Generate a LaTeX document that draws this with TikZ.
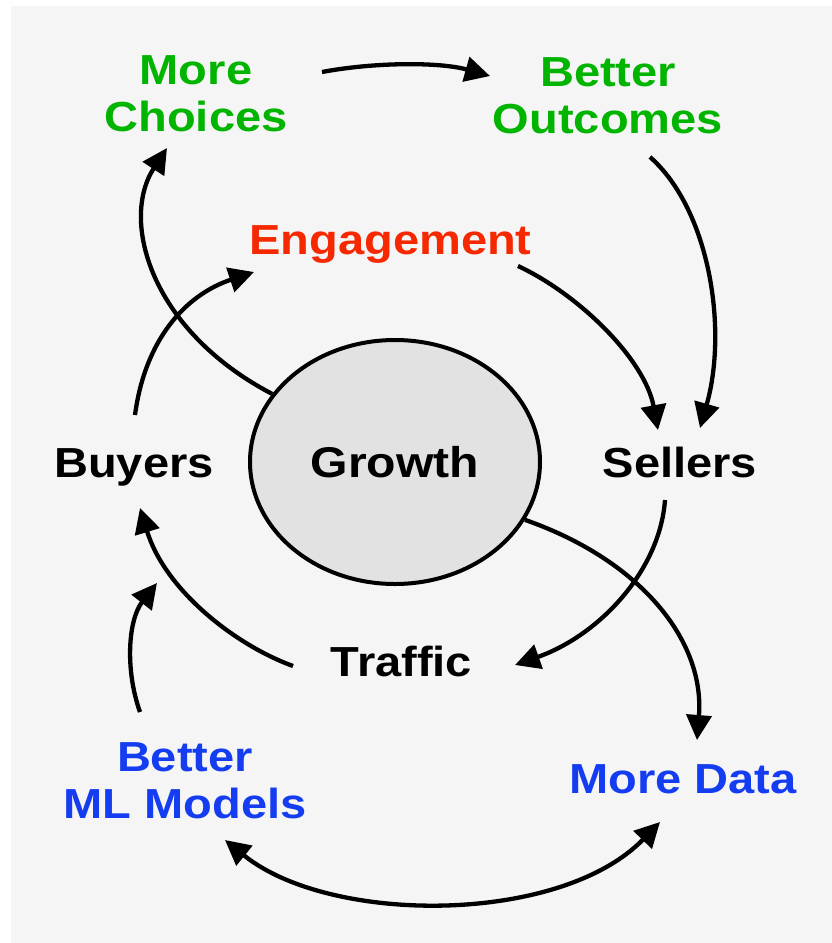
\documentclass[tikz,border=0pt]{standalone}
\usepackage{fontspec}
\setmainfont{Liberation Sans}[FakeStretch=1.12]
\usetikzlibrary{arrows.meta,calc,shapes.geometric}
\definecolor{bgc}{HTML}{F5F5F5}
\definecolor{ellc}{HTML}{E2E2E2}
\definecolor{grn}{HTML}{00B400}
\definecolor{redc}{HTML}{F52800}
\definecolor{blu}{HTML}{143CF0}
\begin{document}
\begin{tikzpicture}[x=1pt,y=-1pt,
  lbl/.style={font=\fontsize{42}{47}\selectfont\bfseries, inner sep=0pt, anchor=base},
  conn/.style={line width=4.3pt, -{Triangle[length=25pt,width=25pt]}},
  biconn/.style={line width=4.3pt, {Triangle[length=25pt,width=25pt]}-{Triangle[length=25pt,width=25pt]}}]
\fill[white] (0,0) rectangle (832,943);
\useasboundingbox (0,0) rectangle (832,943);
\fill[bgc] (11,6) rectangle (832,943);

\node[lbl, text=grn] (mc) at (196,84) {\begin{tabular}[t]{@{}c@{}}More\\Choices\end{tabular}};
\node[lbl, text=grn] (bo) at (608,86) {\begin{tabular}[t]{@{}c@{}}Better\\Outcomes\end{tabular}};
\node[lbl, text=redc] (eng) at (390.5,254) {Engagement};
\node[lbl] (buy) at (134,477) {Buyers};
\node[lbl] (sel) at (680,477) {Sellers};
\node[lbl] (tra) at (401.5,676) {Traffic};
\node[lbl, text=blu] (ml) at (185,771) {\begin{tabular}[t]{@{}c@{}}Better\\ML Models\end{tabular}};
\node[lbl, text=blu] (md) at (683,793) {More Data};
\node[ellipse, draw, line width=4pt, fill=ellc, minimum width=290pt, minimum height=244pt,
      font=\fontsize{43}{47}\selectfont\bfseries, text height=30pt, text depth=0pt, inner sep=0pt] (gro) at (395,462) {Growth};

% More Choices -> Better Outcomes
\draw[conn] ($(mc.base)+(126,-12)$) .. controls ($(mc.base)+(179,-22)$) and ($(bo.base)+(-168,-24)$) .. ($(bo.base)+(-118,-10)$);
% Better Outcomes -> Sellers
\draw[conn] ($(bo.base)+(42,71)$) .. controls ($(bo.base)+(102,124)$) and ($(sel.base)+(48,-147)$) .. ($(sel.base)+(20,-49)$);
% Engagement -> Sellers
\draw[conn] ($(eng.base)+(127.5,12)$) .. controls ($(eng.base)+(189.5,41)$) and ($(sel.base)+(-35,-117)$) .. ($(sel.base)+(-22,-47)$);
% Growth -> More Choices
\draw[conn] (gro.151) .. controls ($(gro)+(-245,-132)$) and ($(mc.base)+(-76,136)$) .. ($(mc.base)+(-29,64)$);
% Buyers -> Engagement
\draw[conn] ($(buy.base)+(1,-62)$) .. controls ($(buy.base)+(11,-137)$) and ($(eng.base)+(-205.5,41)$) .. ($(eng.base)+(-136.5,18)$);
% Sellers -> Traffic
\draw[conn] ($(sel.base)+(-15,23)$) .. controls ($(sel.base)+(-20,93)$) and ($(tra.base)+(198.5,-41)$) .. ($(tra.base)+(113.5,-11)$);
% Traffic -> Buyers
\draw[conn] ($(tra.base)+(-108.5,-10)$) .. controls ($(tra.base)+(-166.5,-31)$) and ($(buy.base)+(31,113)$) .. ($(buy.base)+(6,31)$);
% Better ML Models -> Buyers
\draw[conn] ($(ml.base)+(-45,-59)$) .. controls ($(ml.base)+(-60,-101)$) and ($(buy.base)+(-6,143)$) .. ($(buy.base)+(23,106)$);
% Growth -> More Data
\draw[conn] (gro.-24) .. controls ($(gro)+(245,98)$) and ($(md.base)+(22,-153)$) .. ($(md.base)+(14,-53)$);
% Better ML Models <-> More Data
\draw[biconn] ($(ml.base)+(40,69)$) .. controls ($(ml.base)+(145,154)$) and ($(md.base)+(-123,132)$) .. ($(md.base)+(-23,29)$);
\end{tikzpicture}
\end{document}
